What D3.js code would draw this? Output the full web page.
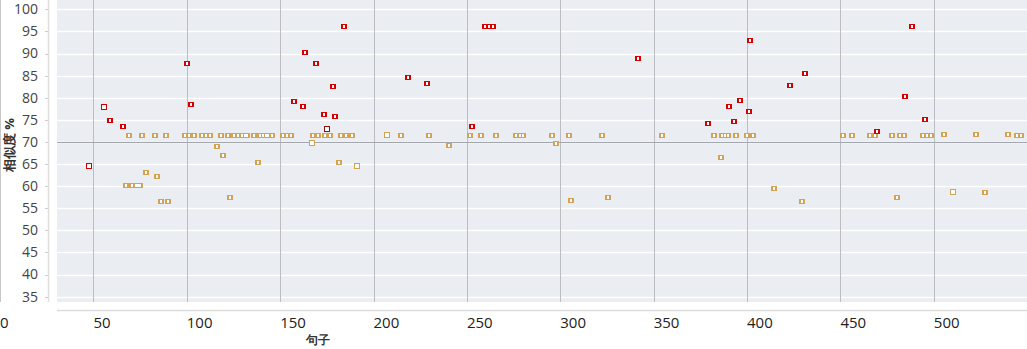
<!DOCTYPE html>
<html>
<head>
<meta charset="utf-8">
<script src="https://cdn.jsdelivr.net/npm/d3@7"></script>
<style>
  body { margin: 0; background: #fff; }
  svg { display: block; font-family: "Open Sans", "Noto Sans", sans-serif; }
</style>
</head>
<body>
<div id="chart"></div>
<script>
// sentence index / similarity %
const redX = [58.9, 65.9, 100.1, 102.3, 157.4, 162.2, 163.3, 169.2, 173.5, 178.3, 179.4, 184,
  218.5, 228.6, 252.7, 259.7, 261.8, 263.8, 341.6, 379.1, 390.3, 393, 396.2, 401, 401.6,
  423, 431, 469.6, 484.6, 488.3, 495.3];
const redY = [74.9, 73.5, 87.8, 78.5, 79.2, 78.1, 90.3, 87.8, 76.4, 82.6, 75.8, 96.2,
  84.8, 83.3, 73.5, 96.2, 96.2, 96.2, 88.9, 74.2, 78.1, 74.7, 79.4, 77.1, 93,
  82.8, 85.5, 72.4, 80.3, 96.2, 75.3];
const redOpenX = [47.7, 55.8];
const redOpenY = [64.5, 77.8];
const selX = [175.3];
const selY = [72.9];

const goldX = [69.1, 76.0, 83.0, 88.9, 99.1, 101.2, 103.9, 108.2, 110.3, 112.4, 118.3, 122.1,
  125.3, 127.4, 129.6, 131.2, 132.3, 136.2, 139.1, 140.8, 142.4, 143.5, 145.5, 151.5, 153.7,
  155.8, 167.8, 170.3, 174.0, 176.7, 182.4, 185.5, 188.5, 214.6, 229.5, 251.5, 257.4, 265.4,
  276.3, 278.4, 280.0, 295.4, 304.5, 322.3, 354.5, 382.2, 386.6, 388.2, 389.8, 393.9, 400.0,
  403.2, 451.2, 456.0, 465.8, 468.4, 477.5, 481.9, 484.0, 494.2, 496.4, 498.5, 544.4, 546.9,
  505.5, 522.6, 539.7,
  116.2, 119.4, 78.0, 84.1, 67.5, 70.7, 72.8, 73.9, 75.0, 86.2, 90.0, 123.2, 138.1, 181.5,
  240.3, 297.5, 305.6, 325.6, 386.1, 414.4, 429.4, 480.3, 527.4];
const goldY = [71.5, 71.5, 71.5, 71.5, 71.5, 71.5, 71.5, 71.5, 71.5, 71.5, 71.5, 71.5,
  71.5, 71.5, 71.5, 71.5, 71.5, 71.5, 71.5, 71.5, 71.5, 71.5, 71.5, 71.5, 71.5,
  71.5, 71.5, 71.5, 71.5, 71.5, 71.5, 71.5, 71.5, 71.5, 71.5, 71.5, 71.5, 71.5,
  71.5, 71.5, 71.5, 71.5, 71.5, 71.5, 71.5, 71.5, 71.5, 71.5, 71.5, 71.5, 71.5,
  71.5, 71.5, 71.5, 71.5, 71.5, 71.5, 71.5, 71.5, 71.5, 71.5, 71.5, 71.5, 71.5,
  71.9, 71.9, 71.9,
  69.0, 67.0, 63.1, 62.2, 60.2, 60.2, 60.2, 60.2, 60.2, 56.6, 56.6, 57.5, 65.4, 65.4,
  69.2, 69.7, 56.9, 57.5, 66.5, 59.5, 56.6, 57.5, 58.6];
const goldOpenX = [167.2, 191.3, 207.4, 510.5];
const goldOpenY = [69.7, 64.5, 71.5, 58.6];

const xTicks = [0, 50, 100, 150, 200, 250, 300, 350, 400, 450, 500];
const yTicks = [35, 40, 45, 50, 55, 60, 65, 70, 75, 80, 85, 90, 95, 100];
const threshold = 70;

const width = 1027;
const height = 349;
const panel = { left: 57, right: 1027, top: 0, bottom: 302 };

const x = d3.scaleLinear().domain([0, 550]).range([0, 1027.2]);
const y = d3.scaleLinear().domain([35, 100]).range([296.7, 9.3]);

const svg = d3.select("#chart")
  .append("svg")
  .attr("width", width)
  .attr("height", height);

// plot background
svg.append("rect")
  .attr("x", panel.left)
  .attr("y", panel.top)
  .attr("width", panel.right - panel.left)
  .attr("height", panel.bottom - panel.top)
  .attr("fill", "#eaedf2");

// horizontal grid
svg.append("g")
  .selectAll("line")
  .data(yTicks)
  .join("line")
  .attr("x1", panel.left)
  .attr("x2", panel.right)
  .attr("y1", (d) => Math.round(y(d)) + 0.5)
  .attr("y2", (d) => Math.round(y(d)) + 0.5)
  .attr("stroke", "#fff")
  .attr("stroke-width", 1.5);

// vertical grid
svg.append("g")
  .selectAll("line")
  .data(xTicks.filter((d) => x(d) > panel.left))
  .join("line")
  .attr("x1", (d) => Math.round(x(d)) + 0.5)
  .attr("x2", (d) => Math.round(x(d)) + 0.5)
  .attr("y1", panel.top)
  .attr("y2", panel.bottom)
  .attr("stroke", "#bcbdc0")
  .attr("stroke-width", 1);

// threshold line
svg.append("line")
  .attr("x1", panel.left)
  .attr("x2", panel.right)
  .attr("y1", Math.round(y(threshold)) + 0.5)
  .attr("y2", Math.round(y(threshold)) + 0.5)
  .attr("stroke", "#a3a7ad")
  .attr("stroke-width", 1.2);

// left border + y axis line
svg.append("line")
  .attr("x1", 0.5).attr("x2", 0.5)
  .attr("y1", 0).attr("y2", panel.bottom)
  .attr("stroke", "#c8c8c8");
svg.append("line")
  .attr("x1", 48.5).attr("x2", 48.5)
  .attr("y1", 0).attr("y2", panel.bottom)
  .attr("stroke", "#dedede")
  .attr("stroke-width", 1.5);

// y ticks + labels
const yAxis = svg.append("g");
yAxis.selectAll("line")
  .data(yTicks)
  .join("line")
  .attr("x1", 45).attr("x2", 48)
  .attr("y1", (d) => Math.round(y(d)) + 0.5)
  .attr("y2", (d) => Math.round(y(d)) + 0.5)
  .attr("stroke", "#cfcfcf");
yAxis.selectAll("text")
  .data(yTicks)
  .join("text")
  .attr("x", 38)
  .attr("y", (d) => y(d))
  .attr("dy", "0.35em")
  .attr("text-anchor", "end")
  .attr("fill", "#444")
  .attr("font-size", 14)
  .text((d) => d);

// x axis line + labels
svg.append("line")
  .attr("x1", panel.left).attr("x2", panel.right)
  .attr("y1", 310.5).attr("y2", 310.5)
  .attr("stroke", "#dcdcdc")
  .attr("stroke-width", 1.5);
svg.append("g")
  .selectAll("text")
  .data(xTicks)
  .join("text")
  .attr("x", (d) => x(d))
  .attr("y", 323)
  .attr("dy", "0.35em")
  .attr("text-anchor", "start")
  .attr("fill", "#222")
  .attr("font-size", 15)
  .text((d) => d);

// axis titles
svg.append("text")
  .attr("x", 318)
  .attr("y", 340)
  .attr("dy", "0.35em")
  .attr("text-anchor", "middle")
  .attr("font-size", 12)
  .attr("font-weight", "bold")
  .attr("fill", "#333")
  .text("句子");
svg.append("text")
  .attr("transform", "translate(9,145) rotate(-90)")
  .attr("dy", "0.35em")
  .attr("text-anchor", "middle")
  .attr("font-size", 13)
  .attr("font-weight", "bold")
  .attr("fill", "#333")
  .text("相似度 %");

// markers
function filled(xs, ys, color) {
  const pts = xs.map((d, i) => [Math.round(x(d)), Math.round(y(ys[i]))]);
  const g = svg.append("g").attr("shape-rendering", "crispEdges");
  g.selectAll("rect.o")
    .data(pts)
    .join("rect")
    .attr("class", "o")
    .attr("x", (d) => d[0] - 3)
    .attr("y", (d) => d[1] - 2)
    .attr("width", 6)
    .attr("height", 5)
    .attr("fill", color);
  g.selectAll("rect.i")
    .data(pts)
    .join("rect")
    .attr("class", "i")
    .attr("x", (d) => d[0] - 1)
    .attr("y", (d) => d[1] - 1)
    .attr("width", 2)
    .attr("height", 3)
    .attr("fill", "#fff");
}
function hollow(xs, ys, color) {
  const pts = xs.map((d, i) => [Math.round(x(d)), Math.round(y(ys[i]))]);
  svg.append("g")
    .attr("shape-rendering", "crispEdges")
    .selectAll("rect")
    .data(pts)
    .join("rect")
    .attr("x", (d) => d[0] - 2.5)
    .attr("y", (d) => d[1] - 2.5)
    .attr("width", 5)
    .attr("height", 5)
    .attr("fill", "#fff")
    .attr("stroke", color)
    .attr("stroke-width", 1);
}

filled(goldX, goldY, "#d4a253");
hollow(goldOpenX, goldOpenY, "#d4a253");
filled(redX, redY, "#d40000");
hollow(redOpenX, redOpenY, "#d40000");
hollow(selX, selY, "#8a1010");
</script>
</body>
</html>
